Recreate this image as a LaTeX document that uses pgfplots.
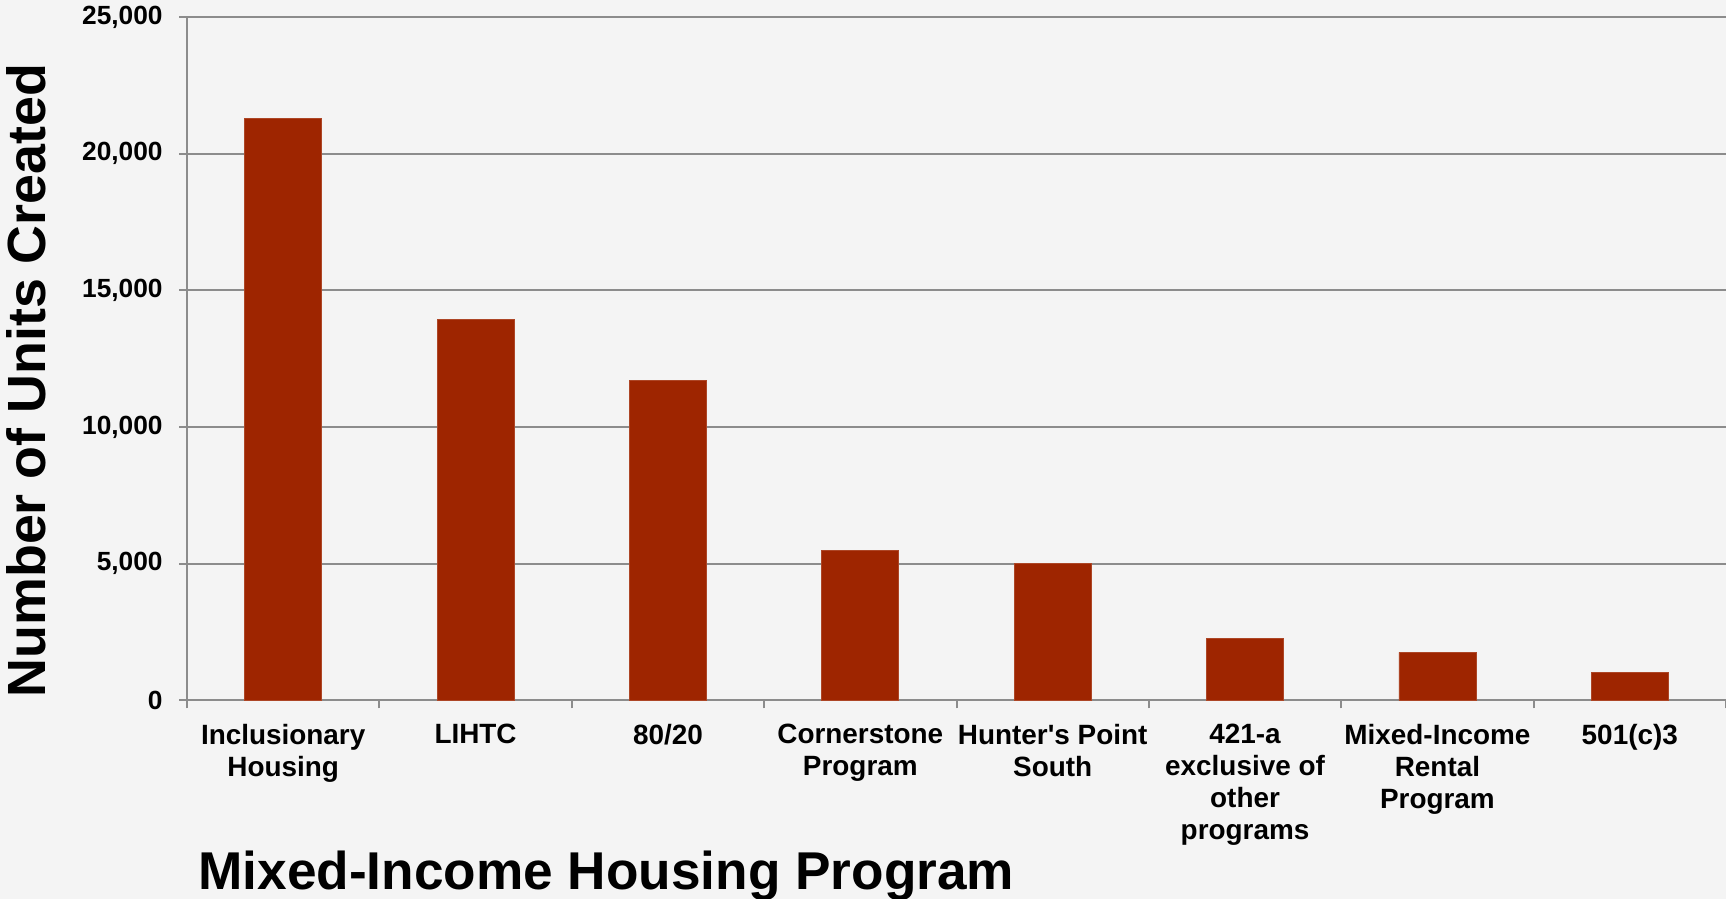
\documentclass[border=0pt]{standalone}
\usepackage{fontspec}
\setmainfont{Liberation Sans}
\usepackage{pgfplots}
\pgfplotsset{compat=1.18}
\definecolor{bg}{HTML}{F4F4F4}
\definecolor{barc}{HTML}{9E2500}
\definecolor{gridc}{HTML}{8C8C8C}
\begin{document}
\begin{tikzpicture}
\fill[bg] (0,0) rectangle (863bp,449.5bp);
\useasboundingbox (0,0) rectangle (863bp,449.5bp);
\begin{axis}[
  at={(93.5bp,99.25bp)}, anchor=south west,
  scale only axis, width=769.5bp, height=341.75bp,
  xmin=-0.5, xmax=7.5, ymin=0, ymax=25000,
  axis x line*=bottom, axis y line*=left,
  axis line style={draw=gridc, line width=1bp},
  ytick={0,5000,10000,15000,20000,25000},
  ymajorgrids, grid style={draw=gridc, line width=1bp},
  scaled y ticks=false,
  /pgf/number format/1000 sep={,},
  /pgf/number format/assume math mode=true,
  y tick label style={font=\fontsize{13.2}{15}\selectfont\bfseries, inner sep=0pt, xshift=-8bp},
  tick align=outside,
  major tick length=4bp, minor tick length=4bp,
  tick style={draw=gridc, line width=1bp},
  xtick={0,...,7},
  x tick style={draw=none},
  minor xtick={-0.5,0.5,...,7.5},
  minor x tick style={draw=gridc, line width=1bp},
  xticklabels={Inclusionary\\Housing, LIHTC, 80/20, Cornerstone\\Program, Hunter\textquotesingle s Point\\South, 421-a\\exclusive of\\other\\programs, Mixed-Income\\Rental\\Program, 501(c)3},
  x tick label style={font=\fontsize{14}{16.1}\selectfont\bfseries, align=center, anchor=north, yshift=-4.2bp},
  ybar, bar width=0.4,
]
\addplot[fill=barc, draw=barc!85!white, line width=0.4bp] coordinates {
 (0,21300) (1,13950) (2,11720) (3,5490) (4,5000) (5,2285) (6,1760) (7,1025)
};
\end{axis}
\node[anchor=base, rotate=90, font=\fontsize{27}{30}\selectfont\bfseries, inner sep=0pt] at (22.8bp,259.25bp) {Number of Units Created};
\node[anchor=base west, font=\fontsize{26.7}{30}\selectfont\bfseries, inner sep=0pt] at (99bp,4.75bp) {Mixed-Income Housing Program};
\end{tikzpicture}
\end{document}
